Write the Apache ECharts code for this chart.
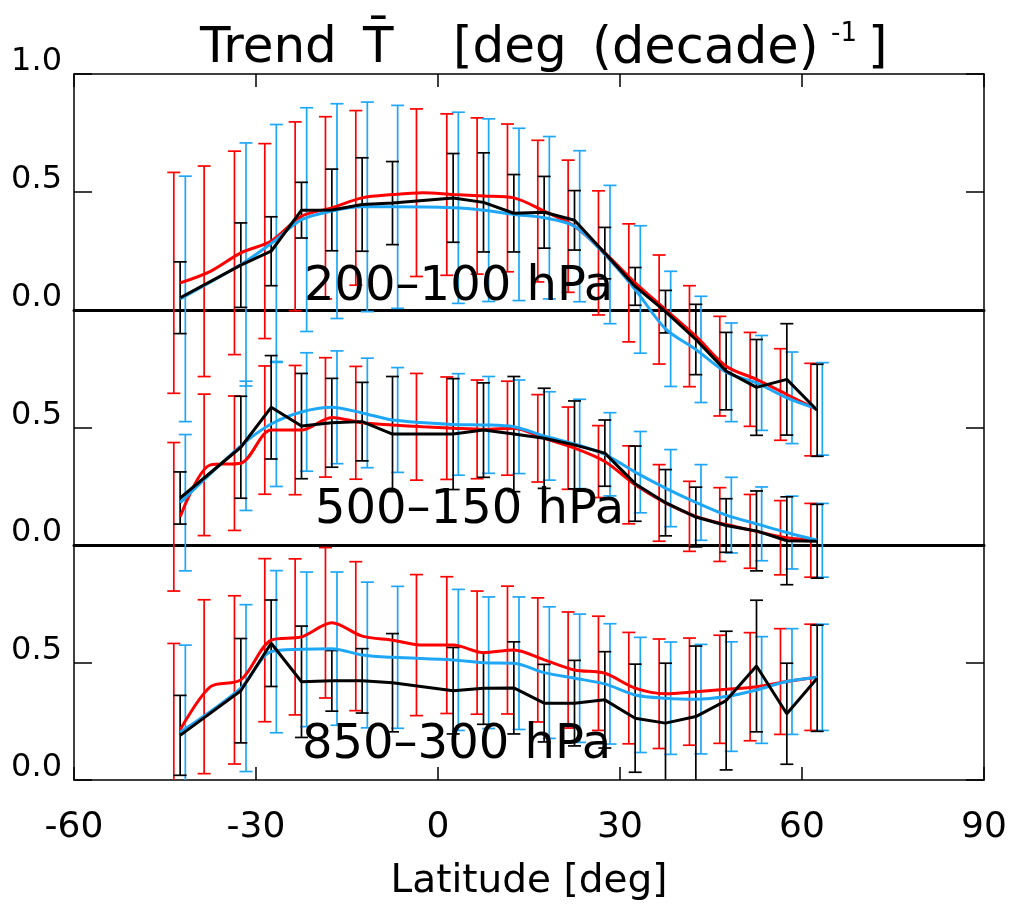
<!DOCTYPE html>
<html><head><meta charset="utf-8">
<script src="https://cdn.jsdelivr.net/npm/echarts@6/dist/echarts.min.js"></script>
<style>html,body{margin:0;padding:0;background:#fff}#c{width:1010px;height:907px}</style>
</head><body><div id="c"></div><script>
// ---------- data ----------
const latitudes = [-42.5, -37.5, -32.5, -27.5, -22.5, -17.5, -12.5, -7.5, -2.5, 2.5, 7.5, 12.5, 17.5, 22.5, 27.5, 32.5, 37.5, 42.5, 47.5, 52.5, 57.5, 62.5];
const xTicks = [-60, -30, 0, 30, 60, 90];
const panelNames = ['200–100 hPa', '500–150 hPa', '850–300 hPa'];

// 200-100 hPa
const redTop = [0.115, 0.164, 0.242, 0.292, 0.397, 0.433, 0.475, 0.489, 0.497, 0.489, 0.483, 0.475, 0.419, 0.355, 0.242, 0.115, 0.002, -0.111, -0.238, -0.294, -0.358, -0.422];
const redTopErr = [0.468, 0.446, 0.431, 0.413, 0.40, 0.386, 0.37, null, 0.355, 0.342, 0.331, 0.313, 0.30, 0.28, 0.263, 0.25, 0.231, 0.214, 0.211, 0.199, 0.194, 0.196];
const blueTop = [0.047, null, 0.193, 0.282, 0.383, 0.419, 0.437, 0.437, null, 0.433, 0.423, 0.405, 0.391, 0.355, 0.235, 0.087, -0.08, -0.167, -0.264, -0.309, -0.372, -0.419];
const blueTopErr = [0.52, null, 0.515, 0.504, 0.474, 0.455, 0.444, 0.43, null, 0.405, 0.387, 0.365, 0.344, 0.32, 0.293, 0.27, 0.244, 0.225, 0.209, 0.201, 0.194, 0.196];
const blackTop = [0.052, null, 0.19, 0.249, 0.423, 0.424, 0.447, 0.453, null, 0.475, 0.456, 0.41, 0.414, 0.38, 0.241, 0.10, -0.007, -0.125, -0.259, -0.328, -0.294, -0.425];
const blackTopErr = [0.152, null, 0.179, 0.146, 0.118, 0.173, 0.198, 0.176, null, 0.188, 0.21, 0.164, 0.152, 0.126, 0.109, 0.08, 0.09, 0.149, 0.164, 0.203, 0.236, 0.195];

// 500-150 hPa
const redMid = [0.12, 0.341, 0.348, 0.489, 0.489, 0.543, 0.52, 0.511, 0.503, 0.497, 0.492, 0.497, 0.454, 0.412, 0.355, 0.256, 0.179, 0.122, 0.087, 0.058, 0.031, 0.02];
const redMidErr = [0.316, 0.301, 0.286, 0.273, 0.275, 0.254, 0.24, null, 0.227, 0.218, 0.21, 0.2, 0.186, 0.175, 0.153, 0.166, 0.163, 0.149, 0.157, 0.157, 0.158, 0.157];
const blueMid = [0.18, null, 0.422, 0.515, 0.566, 0.586, 0.562, 0.532, null, 0.513, 0.511, 0.503, 0.464, 0.43, 0.386, 0.31, 0.242, 0.181, 0.127, 0.09, 0.053, 0.02];
const blueMidErr = [0.29, null, 0.275, 0.266, 0.252, 0.24, 0.233, 0.223, null, 0.216, 0.206, 0.199, 0.188, 0.19, 0.177, 0.173, 0.164, 0.161, 0.161, 0.157, 0.155, 0.157];
const blackMid = [0.2, null, 0.416, 0.586, 0.506, 0.52, 0.525, 0.472, null, 0.472, 0.489, 0.472, 0.454, 0.426, 0.391, 0.261, 0.18, 0.119, 0.083, 0.06, 0.018, 0.016];
const blackMidErr = [0.111, null, 0.217, 0.22, 0.224, 0.189, 0.167, 0.245, null, 0.236, 0.201, 0.245, 0.213, 0.187, 0.141, 0.16, 0.141, 0.127, 0.114, 0.17, 0.187, 0.157];

// 850-300 hPa
const redBot = [0.214, 0.397, 0.426, 0.595, 0.609, 0.669, 0.612, 0.595, 0.574, 0.574, 0.542, 0.553, 0.511, 0.468, 0.454, 0.391, 0.367, 0.376, 0.386, 0.397, 0.419, 0.437];
const redBotErr = [0.367, 0.37, 0.358, 0.347, 0.332, 0.32, 0.317, null, 0.3, 0.291, 0.262, 0.272, 0.264, 0.247, 0.243, 0.237, 0.233, 0.228, 0.23, 0.23, 0.225, 0.226];
const blueBot = [0.203, null, 0.391, 0.546, 0.556, 0.559, 0.532, 0.522, null, 0.511, 0.499, 0.497, 0.457, 0.433, 0.409, 0.362, 0.348, 0.344, 0.355, 0.383, 0.419, 0.437];
const blueBotErr = [0.371, null, 0.355, 0.345, 0.329, 0.326, 0.31, 0.302, null, 0.3, 0.28, 0.282, 0.28, 0.273, 0.256, 0.245, 0.239, 0.233, 0.233, 0.227, 0.225, 0.226];
const blackBot = [0.19, null, 0.38, 0.582, 0.418, 0.422, 0.422, 0.414, null, 0.38, 0.39, 0.392, 0.327, 0.327, 0.341, 0.263, 0.242, 0.27, 0.338, 0.485, 0.282, 0.433];
const blackBotErr = [0.17, null, 0.222, 0.184, 0.237, 0.129, 0.137, 0.209, null, 0.184, 0.153, 0.196, 0.165, 0.182, 0.205, 0.23, 0.255, 0.3, 0.295, 0.28, 0.215, 0.226];

// ---------- build ----------
const RED = '#ff0000', BLUE = '#1ea7f7', BLACK = '#000000';
const FONT = 'DejaVu Sans';
const panels = [
  [[redTop, redTopErr], [blueTop, blueTopErr], [blackTop, blackTopErr]],
  [[redMid, redMidErr], [blueMid, blueMidErr], [blackMid, blackMidErr]],
  [[redBot, redBotErr], [blueBot, blueBotErr], [blackBot, blackBotErr]]
];
const colors = [RED, BLUE, BLACK];
const barShift = [-1.05, 0.85, 0]; // horizontal displacement of the bars (deg)

function errRender(shift, color) {
  return function (params, api) {
    const lat = api.value(0), m = api.value(1), e = api.value(2);
    const x = api.coord([lat + shift, m])[0];
    const yHi = api.coord([lat, m + e])[1];
    const yLo = api.coord([lat, m - e])[1];
    const cap = 6.5, st = { stroke: color, lineWidth: 1.7 };
    return { type: 'group', children: [
      { type: 'line', shape: { x1: x, y1: yHi, x2: x, y2: yLo }, style: st },
      { type: 'line', shape: { x1: x - cap, y1: yHi, x2: x + cap, y2: yHi }, style: st },
      { type: 'line', shape: { x1: x - cap, y1: yLo, x2: x + cap, y2: yLo }, style: st }
    ]};
  };
}

const gridBox = [ {top: 74, height: 236}, {top: 310, height: 235}, {top: 545, height: 235} ];
const grid = gridBox.map(g => ({ left: 74, width: 910, top: g.top, height: g.height }));

const xAxis = [];
const yAxis = [];
gridBox.forEach((g, i) => {
  xAxis.push({
    gridIndex: i, type: 'value', min: xTicks[0], max: xTicks[xTicks.length - 1], interval: 30,
    position: 'bottom',
    axisLine: { show: true, onZero: false, lineStyle: { color: '#000', width: i < 2 ? 3 : 1.5 } },
    axisTick: { show: i === 2, inside: true, length: 13, lineStyle: { color: '#000', width: 1.5 } },
    axisLabel: { show: i === 2, color: '#000', fontFamily: FONT, fontSize: 36, margin: 30 },
    splitLine: { show: false },
    name: i === 2 ? 'Latitude [deg]' : '', nameLocation: 'middle', nameGap: 82,
    nameTextStyle: { color: '#000', fontFamily: FONT, fontSize: 39 }
  });
  yAxis.push({
    gridIndex: i, type: 'value', min: 0, max: 1, interval: 0.5, position: 'left',
    axisLine: { show: true, onZero: false, lineStyle: { color: '#000', width: 1.5 } },
    axisTick: { show: true, inside: true, length: 18, lineStyle: { color: '#000', width: 1.5 } },
    axisLabel: { color: '#000', fontFamily: FONT, fontSize: 32, margin: 12, verticalAlign: 'bottom', lineHeight: 24,
      formatter: v => (i > 0 && v === 1) ? '' : v.toFixed(1) },
    splitLine: { show: false }
  });
  yAxis.push({
    gridIndex: i, type: 'value', min: 0, max: 1, interval: 0.5, position: 'right',
    axisLine: { show: true, onZero: false, lineStyle: { color: '#000', width: 1.5 } },
    axisTick: { show: true, inside: true, length: 18, lineStyle: { color: '#000', width: 1.5 } },
    axisLabel: { show: false }, splitLine: { show: false }
  });
});
// top frame edge with inner ticks
xAxis.push({
  gridIndex: 0, type: 'value', min: xTicks[0], max: xTicks[xTicks.length - 1], interval: 30, position: 'top',
  axisLine: { show: true, onZero: false, lineStyle: { color: '#000', width: 1.5 } },
  axisTick: { show: true, inside: true, length: 13, lineStyle: { color: '#000', width: 1.5 } },
  axisLabel: { show: false }, splitLine: { show: false }
});

const series = [];
panels.forEach((p, i) => {
  const clip = i === 2; // the lowest panel is clipped at the plot's bottom edge
  p.forEach(([mean, err], k) => {
    const d = [];
    latitudes.forEach((lat, j) => { if (mean[j] != null && err[j] != null) d.push([lat, mean[j], err[j]]); });
    series.push({ type: 'custom', xAxisIndex: i, yAxisIndex: 2 * i, clip, silent: true,
      renderItem: errRender(barShift[k], colors[k]), data: d, z: 2 });
  });
  p.forEach(([mean], k) => {
    series.push({ type: 'line', xAxisIndex: i, yAxisIndex: 2 * i, clip: false, silent: true,
      showSymbol: false, symbol: 'none', connectNulls: true, smooth: k < 2 ? 0.3 : false,
      lineStyle: { color: colors[k], width: 3 }, z: 3 + k,
      data: latitudes.map((lat, j) => [lat, mean[j]]) });
  });
});

const txt = (t, x, y, size) => ({ type: 'text', left: x, top: y, z: 10,
  style: { text: t, fill: '#000', font: size + 'px "' + FONT + '"' } });
const graphic = [
  txt('Trend', 200, 24, 50),
  txt('T\u0304', 363, 24, 50),
  txt('[deg', 453, 24, 50),
  txt('(decade)', 592, 24, 51),
  txt('-1', 831, 21, 26),
  txt(']', 868, 24, 50),
  txt(panelNames[0], 304, 264, 48),
  txt(panelNames[1], 315, 487, 48),
  txt(panelNames[2], 302, 722, 48)
];

const chart = echarts.init(document.getElementById('c'), null, { renderer: 'canvas' });
chart.setOption({ animation: false, backgroundColor: '#fff', grid, xAxis, yAxis, series, graphic });
</script></body></html>
